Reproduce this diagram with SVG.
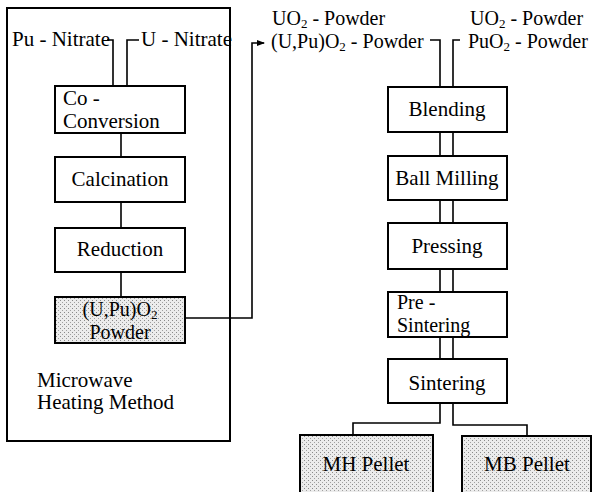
<svg xmlns="http://www.w3.org/2000/svg" width="593" height="492" viewBox="0 0 593 492" font-family="Liberation Serif, Times New Roman, serif">
<defs>
<pattern id="stip" width="4" height="4" patternUnits="userSpaceOnUse">
<rect width="4" height="4" fill="#ececec"/>
<rect x="0" y="0" width="1" height="1" fill="#8a8a8a"/>
<rect x="2" y="2" width="1" height="1" fill="#a0a0a0"/>
</pattern>
<marker id="arr" markerWidth="8" markerHeight="6" refX="7" refY="3" orient="auto" markerUnits="userSpaceOnUse">
<path d="M0,0 L8,3 L0,6 Z" fill="#000"/>
</marker>
<style>
.box{fill:#fff;stroke:#000;stroke-width:2}
.sbox{fill:url(#stip);stroke:#000;stroke-width:2}
.ln{fill:none;stroke:#000;stroke-width:1.6}
.t{font-size:21px;fill:#000}
.c{text-anchor:middle}
.s{font-size:20px}
</style>
</defs>
<rect width="593" height="492" fill="#fff"/>
<g id="frame"><rect x="7" y="8" width="223" height="433" fill="none" stroke="#000" stroke-width="2"/></g>
<g id="connectors">
<path class="ln" d="M107,40 H113 V86"/>
<path class="ln" d="M139,40 H127 V86"/>
<path class="ln" d="M121,133 V157"/>
<path class="ln" d="M121,202 V228"/>
<path class="ln" d="M121,272 V297"/>
<path class="ln" d="M185,318 H252 V43 H264" marker-end="url(#arr)"/>
<path class="ln" d="M430,40 H440 V87"/>
<path class="ln" d="M460,40 H453 V87"/>
<path class="ln" d="M440,132 V156 M453,132 V156"/>
<path class="ln" d="M440,200 V223 M453,200 V223"/>
<path class="ln" d="M440,269 V292 M453,269 V292"/>
<path class="ln" d="M440,337 V359 M453,337 V359"/>
<path class="ln" d="M440,403 V423 H353 V435"/>
<path class="ln" d="M453,403 V425 H527 V436"/>
</g>
<g id="labels" font-family="Liberation Serif, Times New Roman, serif">
<text class="t" x="12" y="46">Pu - Nitrate</text>
<text class="t" x="141" y="46">U - Nitrate</text>
<text class="t s" x="272" y="25">UO<tspan font-size="13" dy="3">2</tspan><tspan dy="-3"> - Powder</tspan></text>
<text class="t s" x="271" y="48">(U,Pu)O<tspan font-size="13" dy="3">2</tspan><tspan dy="-3"> - Powder</tspan></text>
<text class="t s" x="470" y="25">UO<tspan font-size="13" dy="3">2</tspan><tspan dy="-3"> - Powder</tspan></text>
<text class="t s" x="468" y="48">PuO<tspan font-size="13" dy="3">2</tspan><tspan dy="-3"> - Powder</tspan></text>
<text class="t" x="37" y="387">Microwave</text>
<text class="t" x="37" y="409">Heating Method</text>
</g>
<g id="coconversion" font-family="Liberation Serif, Times New Roman, serif"><rect class="box" x="55" y="86" width="130" height="47"/><text class="t" x="63" y="105">Co -</text><text class="t" x="63" y="128">Conversion</text></g>
<g id="calcination" font-family="Liberation Serif, Times New Roman, serif"><rect class="box" x="55" y="157" width="130" height="45"/><text class="t c" x="120" y="186">Calcination</text></g>
<g id="reduction" font-family="Liberation Serif, Times New Roman, serif"><rect class="box" x="55" y="228" width="130" height="44"/><text class="t c" x="120" y="256">Reduction</text></g>
<g id="powder" font-family="Liberation Serif, Times New Roman, serif"><rect class="sbox" x="55" y="297" width="130" height="46"/><text class="t c s" x="120" y="316">(U,Pu)O<tspan font-size="13" dy="3">2</tspan></text><text class="t c s" x="120" y="339">Powder</text></g>
<g id="blending" font-family="Liberation Serif, Times New Roman, serif"><rect class="box" x="388" y="87" width="119" height="45"/><text class="t c" x="447" y="116">Blending</text></g>
<g id="ballmilling" font-family="Liberation Serif, Times New Roman, serif"><rect class="box" x="388" y="156" width="119" height="44"/><text class="t c" x="447" y="185">Ball Milling</text></g>
<g id="pressing" font-family="Liberation Serif, Times New Roman, serif"><rect class="box" x="388" y="223" width="119" height="46"/><text class="t c" x="447" y="253">Pressing</text></g>
<g id="presintering" font-family="Liberation Serif, Times New Roman, serif"><rect class="box" x="388" y="292" width="119" height="45"/><text class="t s" x="397" y="309">Pre -</text><text class="t s" x="397" y="332">Sintering</text></g>
<g id="sintering" font-family="Liberation Serif, Times New Roman, serif"><rect class="box" x="388" y="359" width="119" height="44"/><text class="t c" x="447" y="390">Sintering</text></g>
<g id="mhpellet" font-family="Liberation Serif, Times New Roman, serif"><rect class="sbox" x="300" y="435" width="133" height="65"/><text class="t c" x="366" y="471">MH Pellet</text></g>
<g id="mbpellet" font-family="Liberation Serif, Times New Roman, serif"><rect class="sbox" x="462" y="436" width="129" height="64"/><text class="t c" x="527" y="471">MB Pellet</text></g>
</svg>
